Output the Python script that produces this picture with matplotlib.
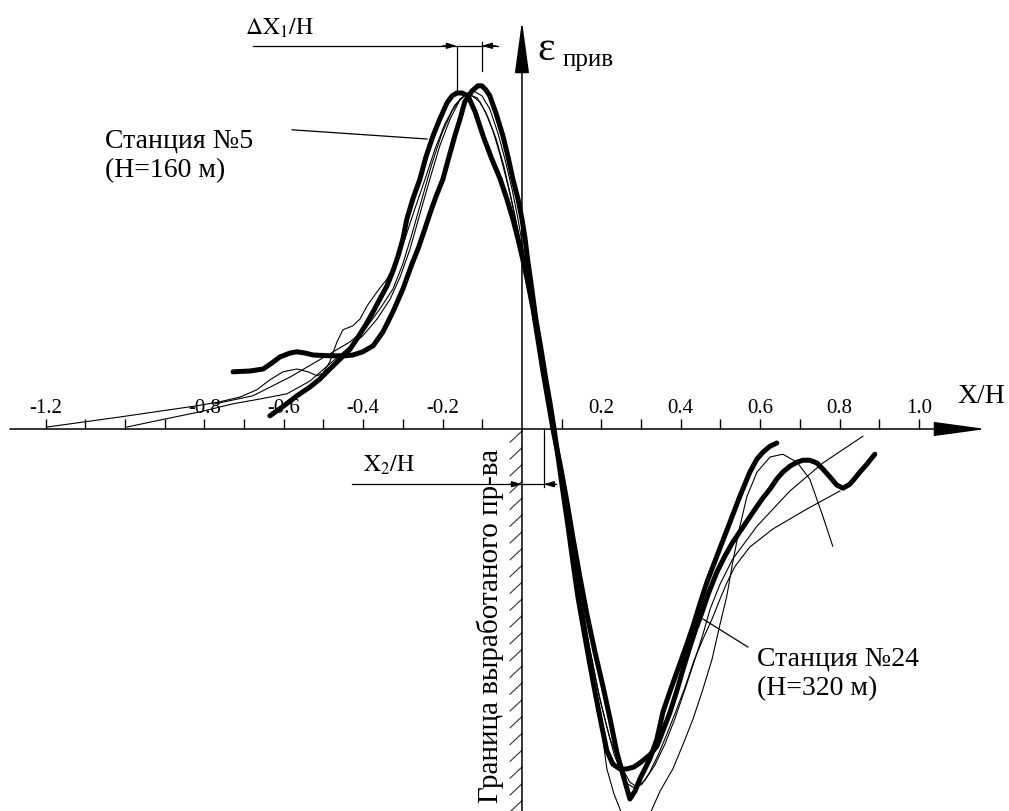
import matplotlib.pyplot as plt

plt.rcParams['font.family'] = ['Liberation Serif', 'DejaVu Serif']
plt.rcParams['mathtext.fontset'] = 'stix'

# X/H and relative strain (no scale on the vertical axis)
thick_a_x = [-0.635, -0.597, -0.567, -0.534, -0.509, -0.484, -0.458, -0.433, -0.416, -0.395,
             -0.375, -0.358, -0.340, -0.325, -0.312, -0.300, -0.290, -0.275, -0.257, -0.242,
             -0.224, -0.207, -0.189, -0.176, -0.164, -0.151, -0.136, -0.118, -0.098, -0.078,
             -0.055, -0.038, -0.023, -0.010, 0.000, 0.013, 0.028, 0.040, 0.053, 0.065,
             0.078, 0.088, 0.096, 0.113, 0.129, 0.146, 0.164, 0.184, 0.204, 0.222,
             0.239, 0.254, 0.272, 0.285, 0.297, 0.322, 0.340, 0.355, 0.375, 0.393,
             0.413, 0.431, 0.448, 0.466, 0.491, 0.524, 0.549, 0.574, 0.592, 0.607,
             0.625, 0.642]
thick_a_y = [0.033, 0.060, 0.083, 0.105, 0.125, 0.150, 0.175, 0.200, 0.225, 0.258,
             0.293, 0.325, 0.358, 0.395, 0.433, 0.475, 0.525, 0.575, 0.625, 0.680,
             0.733, 0.775, 0.815, 0.833, 0.840, 0.840, 0.833, 0.793, 0.733, 0.680,
             0.625, 0.575, 0.525, 0.475, 0.433, 0.375, 0.300, 0.225, 0.143, 0.075,
             0.000, -0.050, -0.088, -0.180, -0.275, -0.370, -0.465, -0.558, -0.643, -0.725,
             -0.808, -0.863, -0.925, -0.905, -0.875, -0.825, -0.775, -0.708, -0.650, -0.600,
             -0.545, -0.493, -0.438, -0.383, -0.318, -0.233, -0.168, -0.108, -0.075, -0.058,
             -0.043, -0.035]

thick_b_x = [-0.728, -0.685, -0.652, -0.630, -0.610, -0.584, -0.567, -0.547, -0.526, -0.484,
             -0.446, -0.426, -0.401, -0.375, -0.350, -0.325, -0.300, -0.277, -0.262, -0.247,
             -0.232, -0.217, -0.199, -0.184, -0.169, -0.156, -0.144, -0.126, -0.111, -0.101,
             -0.091, -0.081, -0.065, -0.048, -0.035, -0.023, -0.010, 0.000, 0.008, 0.013,
             0.023, 0.035, 0.048, 0.060, 0.071, 0.081, 0.091, 0.103, 0.116, 0.128,
             0.141, 0.156, 0.171, 0.186, 0.201, 0.214, 0.229, 0.247, 0.264, 0.282, 0.297,
             0.322, 0.340, 0.355, 0.373, 0.390, 0.406, 0.423, 0.438, 0.453, 0.469,
             0.491, 0.511, 0.531, 0.557, 0.582, 0.605, 0.625, 0.642, 0.657, 0.675,
             0.693, 0.708, 0.725, 0.743, 0.758, 0.776, 0.793, 0.809, 0.826, 0.839,
             0.851, 0.869, 0.889]
thick_b_y = [0.143, 0.145, 0.150, 0.165, 0.180, 0.190, 0.193, 0.190, 0.185, 0.183,
             0.183, 0.185, 0.193, 0.208, 0.243, 0.293, 0.350, 0.413, 0.450, 0.493,
             0.538, 0.580, 0.625, 0.680, 0.733, 0.775, 0.818, 0.845, 0.858, 0.858,
             0.848, 0.833, 0.788, 0.733, 0.680, 0.625, 0.575, 0.525, 0.475, 0.433,
             0.363, 0.275, 0.200, 0.125, 0.063, 0.000, -0.070, -0.155, -0.243, -0.330,
             -0.420, -0.505, -0.588, -0.668, -0.743, -0.805, -0.838, -0.850, -0.850, -0.845, -0.835,
             -0.815, -0.793, -0.755, -0.708, -0.655, -0.600, -0.545, -0.500, -0.460, -0.413,
             -0.358, -0.318, -0.283, -0.245, -0.208, -0.175, -0.150, -0.125, -0.108, -0.093,
             -0.083, -0.078, -0.078, -0.085, -0.100, -0.120, -0.140, -0.148, -0.138, -0.123,
             -0.108, -0.088, -0.063]

thin_a_x = [-1.196, -1.013, -0.819, -0.761, -0.710, -0.668, -0.635, -0.602, -0.567, -0.539,
            -0.516, -0.501, -0.484, -0.466, -0.451, -0.426, -0.408, -0.390, -0.365, -0.340,
            -0.317, -0.295, -0.270, -0.244, -0.219, -0.194, -0.169, -0.149, -0.131, -0.113,
            -0.093, -0.073, -0.055, -0.038, -0.023, -0.008, 0.005, 0.020, 0.038, 0.058,
            0.076, 0.091, 0.108, 0.126, 0.141, 0.159, 0.174, 0.189, 0.202, 0.214,
            0.232, 0.252, 0.287, 0.322, 0.348, 0.380, 0.406, 0.431, 0.456, 0.479,
            0.499, 0.516, 0.531, 0.549, 0.567, 0.592, 0.625, 0.657, 0.693, 0.725,
            0.758, 0.783]
thin_a_y = [0.005, 0.030, 0.058, 0.068, 0.080, 0.098, 0.123, 0.143, 0.150, 0.143,
            0.133, 0.140, 0.168, 0.218, 0.248, 0.258, 0.275, 0.308, 0.343, 0.375,
            0.420, 0.475, 0.550, 0.625, 0.700, 0.763, 0.810, 0.830, 0.835, 0.828,
            0.795, 0.745, 0.685, 0.620, 0.558, 0.488, 0.420, 0.325, 0.225, 0.120,
            0.013, -0.075, -0.183, -0.288, -0.388, -0.488, -0.575, -0.675, -0.763, -0.850,
            -0.913, -0.963, -1.000, -0.963, -0.905, -0.850, -0.788, -0.725, -0.650, -0.575,
            -0.488, -0.418, -0.333, -0.243, -0.168, -0.108, -0.070, -0.063, -0.083, -0.125,
            -0.218, -0.293]

thin_b_x = [-0.995, -0.899, -0.811, -0.728, -0.660, -0.592, -0.534, -0.484, -0.441, -0.401,
            -0.365, -0.332, -0.307, -0.282, -0.257, -0.232, -0.207, -0.181, -0.156, -0.136,
            -0.118, -0.101, -0.081, -0.060, -0.043, -0.025, -0.010, 0.003, 0.028, 0.053,
            0.078, 0.098, 0.121, 0.146, 0.171, 0.196, 0.222, 0.247, 0.272, 0.290,
            0.310, 0.335, 0.360, 0.385, 0.411, 0.436, 0.456, 0.474, 0.499, 0.531,
            0.592, 0.675, 0.758, 0.859]
thin_b_y = [0.005, 0.025, 0.043, 0.063, 0.075, 0.088, 0.120, 0.163, 0.200, 0.233,
            0.275, 0.325, 0.380, 0.450, 0.538, 0.625, 0.708, 0.775, 0.823, 0.840,
            0.843, 0.833, 0.800, 0.738, 0.675, 0.600, 0.525, 0.450, 0.300, 0.150,
            0.000, -0.100, -0.250, -0.400, -0.550, -0.675, -0.775, -0.838, -0.883, -0.895,
            -0.878, -0.840, -0.788, -0.725, -0.650, -0.575, -0.513, -0.450, -0.388, -0.325,
            -0.243, -0.155, -0.085, -0.018]

thin_c_x = [-0.773, -0.678, -0.584, -0.484, -0.433, -0.395, -0.358, -0.325, -0.300, -0.277,
            -0.252, -0.227, -0.202, -0.176, -0.156, -0.141, -0.126, -0.106, -0.086, -0.065,
            -0.045, -0.028, -0.013, 0.000, 0.020, 0.045, 0.071, 0.091, 0.111, 0.131,
            0.151, 0.171, 0.191, 0.212, 0.232, 0.252, 0.267, 0.285, 0.302, 0.322,
            0.343, 0.365, 0.388, 0.411, 0.433, 0.456, 0.479, 0.499, 0.516, 0.537,
            0.574, 0.632, 0.718, 0.801]
thin_c_y = [0.063, 0.083, 0.130, 0.188, 0.218, 0.250, 0.300, 0.350, 0.413, 0.488,
            0.575, 0.663, 0.738, 0.795, 0.825, 0.835, 0.833, 0.818, 0.780, 0.725,
            0.655, 0.580, 0.505, 0.438, 0.325, 0.175, 0.025, -0.075, -0.200, -0.325,
            -0.450, -0.550, -0.650, -0.738, -0.813, -0.863, -0.888, -0.898, -0.888, -0.858,
            -0.815, -0.763, -0.705, -0.645, -0.580, -0.525, -0.475, -0.425, -0.385, -0.343,
            -0.295, -0.250, -0.200, -0.155]

tick_values = [-1.2, -1.1, -1.0, -0.9, -0.8, -0.7, -0.6, -0.5, -0.4, -0.3, -0.2, -0.1,
               0.1, 0.2, 0.3, 0.4, 0.5, 0.6, 0.7, 0.8, 0.9, 1.0]
label_values = [-1.2, -0.8, -0.6, -0.4, -0.2, 0.2, 0.4, 0.6, 0.8, 1.0]
tick_labels = ['-1.2', '-0.8', '-0.6', '-0.4', '-0.2', '0.2', '0.4', '0.6', '0.8', '1.0']

fig = plt.figure(figsize=(10.09, 8.12), dpi=100)
ax = fig.add_axes([0, 0, 1, 1])
ax.set_xlim(-1.315, 1.227)
ax.set_ylim(-0.955, 1.075)
ax.axis('off')

# curves
for x, y in [(thin_a_x, thin_a_y), (thin_b_x, thin_b_y), (thin_c_x, thin_c_y)]:
    ax.plot(x, y, color='black', lw=0.8, solid_joinstyle='round')
for x, y in [(thick_a_x, thick_a_y), (thick_b_x, thick_b_y)]:
    ax.plot(x, y, color='black', lw=3.6, solid_capstyle='round', solid_joinstyle='round')

# coordinate axes with arrows
arrow_kw = dict(arrowstyle='-|>,head_length=3.3,head_width=0.45', mutation_scale=10,
                lw=1.1, color='black', shrinkA=0, shrinkB=0)
ax.annotate('', xy=(1.169, 0), xytext=(-1.29, 0), arrowprops=arrow_kw)
ax.annotate('', xy=(0, 1.02), xytext=(0, -0.96), arrowprops=arrow_kw)

ax.vlines(tick_values, 0, 0.025, color='black', lw=1.0)
for v, lab in zip(label_values, tick_labels):
    ax.text(v, 0.0425, lab, ha='center', va='baseline', fontsize=15)

ax.text(1.098, 0.068, 'X/H', ha='left', va='baseline', fontsize=20)
ax.text(0.038, 0.925, 'ε', ha='left', va='baseline', fontsize=30)
ax.text(0.103, 0.91, 'прив', ha='left', va='baseline', fontsize=18)

# hatched boundary of mined-out area
for k in range(23):
    y0 = -0.005 - k * 0.042
    ax.plot([-0.030, 0], [y0 - 0.028, y0], color='#333333', lw=0.8)
ax.text(-0.081, -0.49, 'Граница выработаного пр-ва', rotation=90,
        ha='center', va='center', fontsize=21)

# dimension ΔX1/H
small_kw = dict(arrowstyle='-|>,head_length=0.6,head_width=0.18', mutation_scale=10,
                lw=0.9, color='black', shrinkA=0, shrinkB=0)
ax.plot([-0.678, -0.060], [0.958, 0.958], color='black', lw=0.9)
ax.plot([-0.164, -0.164], [0.958, 0.845], color='black', lw=0.9)
ax.plot([-0.101, -0.101], [0.968, 0.895], color='black', lw=0.9)
ax.annotate('', xy=(-0.164, 0.958), xytext=(-0.20, 0.958), arrowprops=small_kw)
ax.annotate('', xy=(-0.101, 0.958), xytext=(-0.065, 0.958), arrowprops=small_kw)
ax.text(-0.698, 0.988, r'$\Delta\mathrm{X}_1\mathrm{/H}$', ha='left', va='baseline', fontsize=17)

# dimension X2/H
ax.plot([-0.428, 0.086], [-0.138, -0.138], color='black', lw=0.9)
ax.plot([0.055, 0.055], [0, -0.145], color='black', lw=0.9)
ax.annotate('', xy=(0, -0.138), xytext=(-0.03, -0.138), arrowprops=small_kw)
ax.annotate('', xy=(0.055, -0.138), xytext=(0.085, -0.138), arrowprops=small_kw)
ax.text(-0.401, -0.105, r'$\mathrm{X}_2\mathrm{/H}$', ha='left', va='baseline', fontsize=17)

# station labels with leaders
ax.plot([-0.579, -0.239], [0.748, 0.725], color='black', lw=0.9)
ax.text(-1.050, 0.705, 'Станция №5', ha='left', va='baseline', fontsize=20)
ax.text(-1.050, 0.633, '(Н=160 м)', ha='left', va='baseline', fontsize=20)
ax.plot([0.569, 0.456], [-0.545, -0.475], color='black', lw=0.9)
ax.text(0.592, -0.588, 'Станция №24', ha='left', va='baseline', fontsize=20)
ax.text(0.592, -0.663, '(Н=320 м)', ha='left', va='baseline', fontsize=20)

fig.savefig('out.png', dpi=100, facecolor='white')
